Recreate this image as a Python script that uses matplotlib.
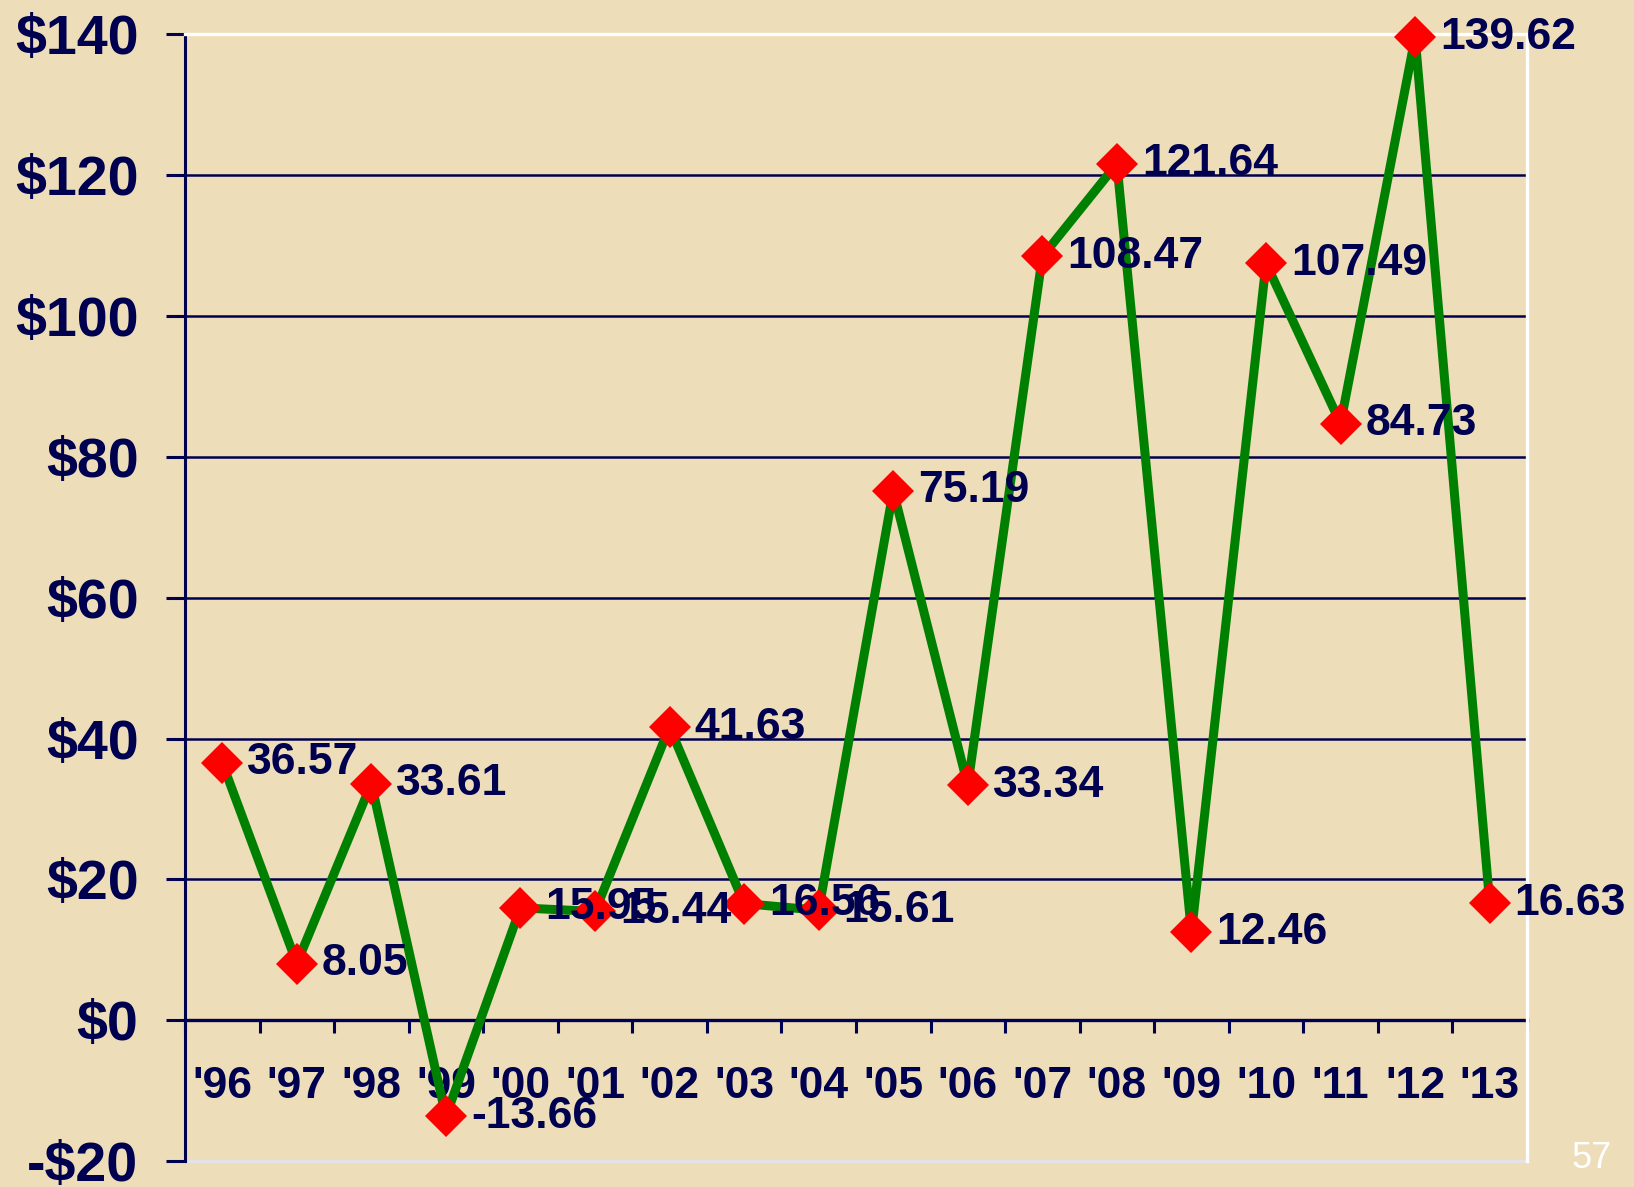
import matplotlib.pyplot as plt

# yearly values, '96 .. '13
years  = ["'96", "'97", "'98", "'99", "'00", "'01", "'02", "'03", "'04",
          "'05", "'06", "'07", "'08", "'09", "'10", "'11", "'12", "'13"]
values = [36.57, 8.05, 33.61, -13.66, 15.95, 15.44, 41.63, 16.56, 15.61,
          75.19, 33.34, 108.47, 121.64, 12.46, 107.49, 84.73, 139.62, 16.63]

y_ticks  = [-20, 0, 20, 40, 60, 80, 100, 120, 140]
y_labels = ["-$20", "$0", "$20", "$40", "$60", "$80", "$100", "$120", "$140"]
grid_at  = [20, 40, 60, 80, 100, 120]

BG    = "#EDDDB8"
NAVY  = "#000050"
GREEN = "#008000"
RED   = "#FF0000"

plt.rcParams["font.family"] = ["Liberation Sans", "DejaVu Sans"]

fig = plt.figure(figsize=(16.34, 11.87), dpi=100, facecolor=BG)
ax = fig.add_axes([0.1132, 0.0219, 0.9345 - 0.1132, 0.971 - 0.0219])
ax.set_facecolor(BG)

x = list(range(len(years)))
ax.set_xlim(-0.5, len(years) - 0.5)
ax.set_ylim(-20, 140)

for g in grid_at:
    ax.axhline(g, color=NAVY, lw=1.8, zorder=1)
# bottom frame line
ax.axhline(-20, color="#E4E2EE", lw=2, zorder=1, clip_on=False)

ax.plot(x, values, color=GREEN, lw=6.5, zorder=3, clip_on=False)
ax.plot(x, values, ls="none", marker="D", ms=21, mfc=RED, mec=RED, mew=0,
        zorder=4, clip_on=False)

for xi, v in zip(x, values):
    ax.annotate(f"{v:.2f}", (xi, v), xytext=(18, 0), textcoords="offset points",
                ha="left", va="center", fontsize=32, fontweight="bold",
                color=NAVY, zorder=5, annotation_clip=False)

# spines
ax.spines["bottom"].set_position(("data", 0))
ax.spines["bottom"].set_color(NAVY)
ax.spines["bottom"].set_linewidth(2.4)
ax.spines["bottom"].set_zorder(2)
ax.spines["left"].set_color(NAVY)
ax.spines["left"].set_linewidth(2.2)
ax.spines["top"].set_color("white")
ax.spines["top"].set_linewidth(2.4)
ax.spines["right"].set_color("white")
ax.spines["right"].set_linewidth(2.4)

ax.set_yticks(y_ticks)
ax.set_yticklabels(y_labels)
ax.tick_params(axis="y", direction="out", length=13.5, width=2.2, color=NAVY,
               pad=20, labelsize=40, labelcolor=NAVY)
for t in ax.get_yticklabels():
    t.set_fontweight("bold")

# category boundaries carry the ticks, names sit centred between them
ax.set_xticks([i - 0.5 for i in range(len(years) + 1)])
ax.set_xticklabels([])
ax.set_xticks(x, minor=True)
ax.set_xticklabels(years, minor=True)
ax.tick_params(axis="x", which="major", direction="out", length=9, width=2.2, color=NAVY)
ax.tick_params(axis="x", which="minor", length=0, pad=33, labelsize=32,
               labelcolor=NAVY)
for t in ax.get_xticklabels(minor=True):
    t.set_fontweight("bold")

fig.text(1592 / 1634, 1 - 1158 / 1187, "57", color="white", fontsize=26,
         ha="center", va="center")

fig.savefig("out.png", dpi=100, facecolor=BG)
